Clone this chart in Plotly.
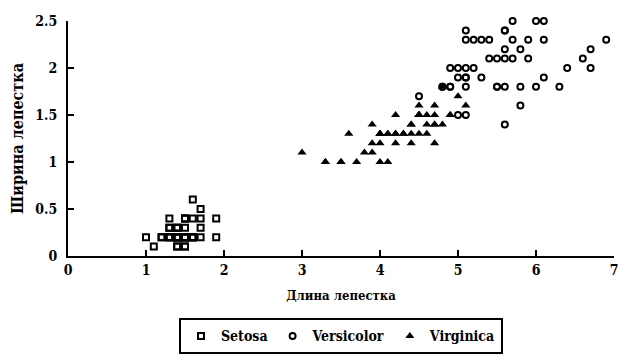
import plotly.graph_objects as go

setosa_len = [1.4,1.4,1.3,1.5,1.4,1.7,1.4,1.5,1.4,1.5,1.5,1.6,1.4,1.1,1.2,1.5,1.3,1.4,1.7,1.5,
              1.7,1.5,1.0,1.7,1.9,1.6,1.6,1.5,1.4,1.6,1.6,1.5,1.5,1.4,1.5,1.2,1.3,1.4,1.3,1.5,
              1.3,1.3,1.3,1.6,1.9,1.4,1.6,1.4,1.5,1.4]
setosa_wid = [0.2,0.2,0.2,0.2,0.2,0.4,0.3,0.2,0.2,0.1,0.2,0.2,0.1,0.1,0.2,0.4,0.4,0.3,0.3,0.3,
              0.2,0.4,0.2,0.5,0.2,0.2,0.4,0.2,0.2,0.2,0.2,0.4,0.1,0.2,0.2,0.2,0.2,0.1,0.2,0.2,
              0.3,0.3,0.2,0.6,0.4,0.3,0.2,0.2,0.2,0.2]

# open circles (labelled "Versicolor" in the chart)
versicolor_len = [6.0,5.1,5.9,5.6,5.8,6.6,4.5,6.3,5.8,6.1,5.1,5.3,5.5,5.0,5.1,5.3,5.5,6.7,6.9,5.0,
                  5.7,4.9,6.7,4.9,5.7,6.0,4.8,4.9,5.6,5.8,6.1,6.4,5.6,5.1,5.6,6.1,5.6,5.5,4.8,5.4,
                  5.6,5.1,5.1,5.9,5.7,5.2,5.0,5.2,5.4,5.1]
versicolor_wid = [2.5,1.9,2.1,1.8,2.2,2.1,1.7,1.8,1.8,2.5,2.0,1.9,2.1,2.0,2.4,2.3,1.8,2.2,2.3,1.5,
                  2.3,2.0,2.0,1.8,2.1,1.8,1.8,1.8,2.1,1.6,1.9,2.0,2.2,1.5,1.4,2.3,2.4,1.8,1.8,2.1,
                  2.4,2.3,1.9,2.3,2.5,2.3,1.9,2.0,2.3,1.8]

# filled triangles (labelled "Virginica" in the chart)
virginica_len = [4.7,4.5,4.9,4.0,4.6,4.5,4.7,3.3,4.6,3.9,3.5,4.2,4.0,4.7,3.6,4.4,4.5,4.1,4.5,3.9,
                 4.8,4.0,4.9,4.7,4.3,4.4,4.8,5.0,4.5,3.5,3.8,3.7,3.9,5.1,4.5,4.5,4.7,4.4,4.1,4.0,
                 4.4,4.6,4.0,3.3,4.2,4.2,4.2,4.3,3.0,4.1]
virginica_wid = [1.4,1.5,1.5,1.3,1.5,1.3,1.6,1.0,1.3,1.4,1.0,1.5,1.0,1.4,1.3,1.4,1.5,1.0,1.5,1.1,
                 1.8,1.3,1.5,1.2,1.3,1.4,1.4,1.7,1.5,1.0,1.1,1.0,1.2,1.6,1.5,1.6,1.5,1.3,1.3,1.3,
                 1.2,1.4,1.2,1.0,1.3,1.2,1.3,1.3,1.1,1.3]

x_ticks = [0, 1, 2, 3, 4, 5, 6, 7]
y_ticks = [0, 0.5, 1, 1.5, 2, 2.5]
y_tick_text = ["0", "0.5", "1", "1.5", "2", "2.5"]

FONT = "DejaVu Serif Condensed, DejaVu Serif, serif"

fig = go.Figure()
fig.add_trace(go.Scatter(x=setosa_len, y=setosa_wid, mode="markers", name="Setosa",
                         marker=dict(symbol="square-open", size=6, color="black",
                                     line=dict(width=2, color="black")),
                         cliponaxis=False))
fig.add_trace(go.Scatter(x=versicolor_len, y=versicolor_wid, mode="markers", name="Versicolor",
                         marker=dict(symbol="circle-open", size=6, color="black",
                                     line=dict(width=2, color="black")),
                         cliponaxis=False))
fig.add_trace(go.Scatter(x=virginica_len, y=virginica_wid, mode="markers", name="Virginica",
                         marker=dict(symbol="triangle-up", size=8, color="black",
                                     line=dict(width=0)),
                         cliponaxis=False))

fig.update_layout(
    width=634, height=356,
    paper_bgcolor="white", plot_bgcolor="white",
    margin=dict(l=60, r=28, t=13, b=108, autoexpand=False),
    font=dict(family=FONT, size=14, color="black", weight="bold"),
    xaxis=dict(range=[0, 7], tickvals=x_ticks, showgrid=False, zeroline=False,
               showline=True, linecolor="black", linewidth=2, automargin=False,
               ticks="inside", ticklen=6, tickwidth=2, tickcolor="black",
               title=dict(text="Длина лепестка", standoff=14,
                          font=dict(family=FONT, size=13, weight="bold")),
               tickfont=dict(family=FONT, size=14, weight="bold")),
    yaxis=dict(range=[0, 2.5], tickvals=y_ticks, ticktext=y_tick_text, showgrid=False,
               zeroline=False, showline=True, linecolor="black", linewidth=2, automargin=False,
               ticks="inside", ticklen=6, tickwidth=2, tickcolor="black",
               ticklabelstandoff=6,
               title=dict(text="Ширина лепестка", standoff=16,
                          font=dict(family=FONT, size=16, weight="bold")),
               tickfont=dict(family=FONT, size=14, weight="bold")),
    legend=dict(orientation="h", x=0.5, xanchor="center", y=-0.265, yanchor="top",
                bordercolor="black", borderwidth=2, bgcolor="white",
                font=dict(family=FONT, size=14, weight="bold"),
                itemwidth=30),
    showlegend=True,
)

fig.write_html("out.html")
